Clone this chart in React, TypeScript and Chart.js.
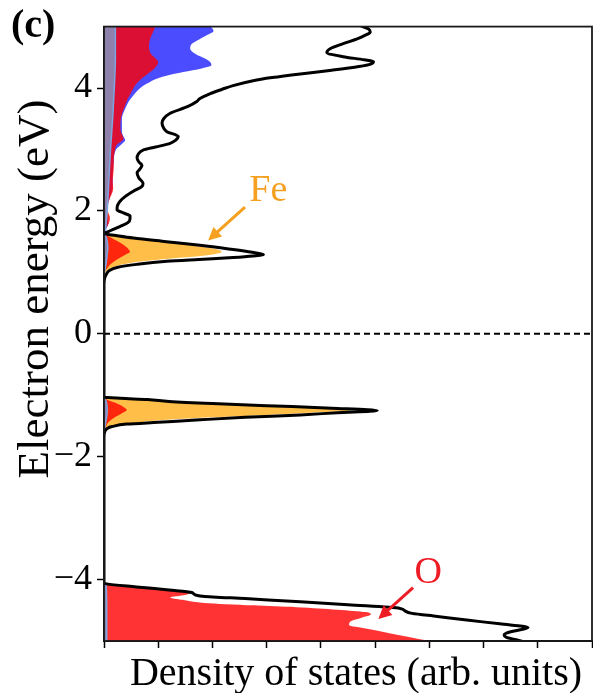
import { useEffect, useRef } from 'react';
import { Chart, registerables } from 'chart.js';

Chart.register(...registerables);

// ---------------- data (energy in eV, DOS in arb. units) ----------------
const totalE = [
  5.05, 5.01, 4.96, 4.91, 4.86, 4.80, 4.72, 4.64, 4.58, 4.51, 4.46, 4.43, 4.39, 4.35, 4.29, 4.23, 4.17, 4.12,
  4.04, 3.98, 3.91, 3.83, 3.78, 3.70, 3.59, 3.50, 3.43, 3.35, 3.29, 3.21, 3.15, 3.10, 3.04, 2.99, 2.92, 2.86,
  2.80, 2.74, 2.68, 2.62, 2.54, 2.45, 2.40, 2.32, 2.24, 2.16, 2.09, 2.02, 1.96, 1.92, 1.87, 1.81, 1.75, 1.70,
  1.66, 1.63, 1.60, 1.56, 1.50, 1.44, 1.38, 1.33, 1.29, 1.265, 1.24, 1.21, 1.18, 1.13, 1.08, 1.03, 0.98, 0.90,
  0.80, -1.00, -1.03, -1.05, -1.07, -1.10, -1.135, -1.17, -1.21, -1.25, -1.285, -1.32, -1.36, -1.40, -1.44,
  -1.47, -1.51, -1.54, -1.60, -1.70, -4.05, -4.07, -4.12, -4.17, -4.21, -4.235, -4.27, -4.31, -4.36, -4.41,
  -4.47, -4.51, -4.55, -4.60, -4.66, -4.72, -4.78, -4.81, -4.85, -4.90, -4.94, -4.98, -5.05,
];
const totalDOS = [
  4.60, 4.75, 4.88, 4.91, 4.82, 4.67, 4.40, 4.17, 4.11, 4.41, 4.80, 4.97, 4.92, 4.70, 4.20, 3.62, 3.10, 2.75,
  2.38, 2.18, 1.96, 1.77, 1.71, 1.55, 1.22, 1.10, 1.07, 1.10, 1.16, 1.37, 1.32, 1.22, 0.95, 0.72, 0.63, 0.61,
  0.64, 0.70, 0.66, 0.61, 0.64, 0.72, 0.70, 0.54, 0.40, 0.30, 0.25, 0.24, 0.38, 0.48, 0.48, 0.44, 0.30, 0.17,
  0.07, 0.0, 0.22, 0.54, 1.15, 1.77, 2.30, 2.70, 2.94, 2.75, 2.38, 1.75, 1.16, 0.60, 0.24, 0.10, 0.05, 0.01,
  0, 0, 0, 0.3, 0.8, 1.2, 2.0, 3.0, 4.2, 5.04, 4.3, 3.62, 2.6, 1.77, 1.0,
  0.42, 0.15, 0.06, 0.01, 0, 0, 0.05, 0.6, 1.2, 1.62, 1.66, 1.82, 2.6, 3.62, 4.5,
  5.46, 5.55, 5.68, 6.15, 6.69, 7.3, 7.82, 7.72, 7.50, 7.38, 7.42, 7.60, 7.90,
];

// red: O states
const oxygenE = [
  5.05, 5.01, 4.90, 4.80, 4.70, 4.58, 4.50, 4.42, 4.34, 4.26, 4.15, 4.05, 3.94, 3.83, 3.72, 3.60, 3.50, 3.38,
  3.29, 3.18, 3.07, 2.97, 2.86, 2.72, 2.59, 2.48, 2.37, 2.29, 2.21, 2.13, 2.05, 1.97, 1.89, 1.80, 1.72, 1.67,
  1.63, 1.60, 1.54, 1.48, 1.42, 1.37, 1.33, 1.29, 1.25, 1.21, 1.14, 1.08, 1.00, 0.90, -1.02, -1.06, -1.09,
  -1.13, -1.19, -1.24, -1.29, -1.37, -1.45, -1.54, -1.65, -4.05, -4.07, -4.12, -4.17, -4.21, -4.25, -4.29,
  -4.33, -4.38, -4.42, -4.45, -4.49, -4.53, -4.57, -4.62, -4.68, -4.74, -4.80, -4.86, -4.93, -5.05,
];
const oxygenDOS = [
  0.96, 0.95, 0.90, 0.85, 0.83, 0.85, 0.93, 1.00, 0.95, 0.85, 0.69, 0.58, 0.51, 0.44, 0.39, 0.34, 0.31, 0.30,
  0.31, 0.36, 0.23, 0.20, 0.18, 0.18, 0.17, 0.16, 0.17, 0.15, 0.11, 0.08, 0.05, 0.08, 0.11, 0.09, 0.04, 0.01,
  0.02, 0.06, 0.18, 0.30, 0.40, 0.46, 0.48, 0.40, 0.32, 0.24, 0.13, 0.07, 0.01, 0, 0, 0.04, 0.10,
  0.23, 0.36, 0.42, 0.34, 0.18, 0.07, 0.03, 0, 0, 0.05, 0.6, 1.2, 1.6, 1.5, 1.22,
  1.45, 1.85, 2.75, 3.55, 4.3, 4.82, 4.92, 4.75, 4.55, 4.52, 4.85, 5.2, 5.6, 6.3,
];

// orange: Fe states
const ironE = [
  1.64, 1.615, 1.59, 1.54, 1.49, 1.43, 1.38, 1.33, 1.29, 1.26, 1.24, 1.20, 1.16, 1.10, 1.05, 1.00, 0.90,
  -1.02, -1.04, -1.06, -1.085, -1.13, -1.17, -1.20, -1.23, -1.25, -1.28, -1.32, -1.36, -1.40, -1.44, -1.48,
  -1.52, -1.56, -1.65,
];
const ironDOS = [
  0, 0.05, 0.24, 0.62, 1.12, 1.70, 2.06, 2.17, 2.0, 1.70, 1.46, 0.95, 0.54, 0.22, 0.11, 0.03, 0,
  0, 0, 0.3, 0.8, 1.75, 2.8, 3.62, 4.25, 4.54, 3.9, 3.0, 2.0, 1.16, 0.65, 0.30,
  0.10, 0.03, 0,
];

// blue states
const blueE = [
  5.05, 5.01, 4.97, 4.93, 4.87, 4.80, 4.72, 4.64, 4.56, 4.47, 4.41, 4.37, 4.32, 4.26, 4.20, 4.15, 4.10, 4.04,
  3.96, 3.88, 3.80, 3.72, 3.60, 3.50, 3.39, 3.29, 3.21, 3.15, 3.09, 3.02, 2.95, 2.80, 2.60, 2.40, 2.20, 2.00,
  1.80, 1.65,
];
const blueDOS = [
  1.92, 1.96, 2.00, 2.02, 1.92, 1.77, 1.62, 1.59, 1.68, 1.89, 1.97, 1.98, 1.80, 1.46, 1.15, 0.97, 0.85, 0.73,
  0.62, 0.54, 0.47, 0.42, 0.36, 0.33, 0.33, 0.33, 0.36, 0.39, 0.33, 0.24, 0.20, 0.18, 0.16, 0.16, 0.10, 0.05,
  0.08, 0,
];

// grey-violet states
const greyE = [
  5.05, 4.5, 4.0, 3.5, 3.0, 2.5, 2.0, 1.7, 1.62, 1.55, 1.40, 1.30, 1.15, 1.0, 0.9, -1.02, -1.10, -1.25, -1.40,
  -1.55, -1.65, -4.05, -4.10, -4.5, -5.05,
];
const greyDOS = [
  0.21, 0.21, 0.19, 0.16, 0.12, 0.09, 0.06, 0.03, 0.02, 0.05, 0.07, 0.06, 0.04, 0.01, 0, 0, 0.04, 0.06, 0.04,
  0.01, 0, 0, 0.04, 0.05, 0.05,
];

// Fermi level
const fermiE = [0, 0];
const fermiDOS = [0, 9];

// axes
const yTickValues = [-4, -2, 0, 2, 4];
const xTickValues = [0, 1, 2, 3, 4, 5, 6, 7, 8, 9];
const xTitle = 'Density of states (arb. units)';
const yTitle = 'Electron energy (eV)';
const panelLabel = '(c)';

// labels with arrows (data coordinates: [DOS, energy])
const annotationTexts = ['Fe', 'O'];
const annotationColors = ['#F5A020', '#EE1C25'];
const annotationTextAt = [[3.03, 2.32], [5.98, -3.90]];
const annotationArrowFrom = [[2.60, 2.06], [5.70, -4.13]];
const annotationArrowTo = [[1.92, 1.52], [5.06, -4.64]];

const SERIF = "'Liberation Serif', 'Times New Roman', serif";

const toPoints = (es: number[], ds: number[]) => es.map((e, i) => ({ x: ds[i], y: e }));

const framePlugin = {
  id: 'frame',
  afterDatasetsDraw(chart: any) {
    const { ctx, chartArea: a } = chart;
    ctx.save();
    ctx.strokeStyle = '#1a1a1a';
    ctx.lineWidth = 1.8;
    ctx.strokeRect(a.left, a.top, a.right - a.left, a.bottom - a.top);
    ctx.restore();
  },
};

const textPlugin = {
  id: 'texts',
  afterDraw(chart: any) {
    const { ctx } = chart;
    ctx.save();
    ctx.fillStyle = '#000';
    // x-axis title
    ctx.font = `40px ${SERIF}`;
    ctx.textAlign = 'center';
    ctx.textBaseline = 'alphabetic';
    ctx.fillText(xTitle, 356, 685);
    // y-axis title
    ctx.save();
    ctx.translate(48, 289);
    ctx.rotate(-Math.PI / 2);
    ctx.font = `45px ${SERIF}`;
    ctx.fillText(yTitle, 0, 0);
    ctx.restore();
    // panel label
    ctx.font = `bold 40px ${SERIF}`;
    ctx.textAlign = 'left';
    ctx.fillText(panelLabel, 11, 37);
    ctx.restore();
  },
};

const annotationPlugin = {
  id: 'dosAnnotations',
  afterDatasetsDraw(chart: any) {
    const { ctx, scales } = chart;
    const xs = scales.x;
    const ys = scales.y;
    ctx.save();
    annotationTexts.forEach((txt, i) => {
      const color = annotationColors[i];
      const tx = xs.getPixelForValue(annotationTextAt[i][0]);
      const ty = ys.getPixelForValue(annotationTextAt[i][1]);
      ctx.fillStyle = color;
      ctx.font = `38px ${SERIF}`;
      ctx.textAlign = 'center';
      ctx.textBaseline = 'middle';
      ctx.fillText(txt, tx, ty);
      const x0 = xs.getPixelForValue(annotationArrowFrom[i][0]);
      const y0 = ys.getPixelForValue(annotationArrowFrom[i][1]);
      const x1 = xs.getPixelForValue(annotationArrowTo[i][0]);
      const y1 = ys.getPixelForValue(annotationArrowTo[i][1]);
      const ang = Math.atan2(y1 - y0, x1 - x0);
      const headLen = 13;
      const headW = 6.5;
      ctx.strokeStyle = color;
      ctx.lineWidth = 3;
      ctx.beginPath();
      ctx.moveTo(x0, y0);
      ctx.lineTo(x1 - Math.cos(ang) * headLen * 0.8, y1 - Math.sin(ang) * headLen * 0.8);
      ctx.stroke();
      ctx.beginPath();
      ctx.moveTo(x1, y1);
      ctx.lineTo(x1 - Math.cos(ang) * headLen - Math.sin(ang) * headW, y1 - Math.sin(ang) * headLen + Math.cos(ang) * headW);
      ctx.lineTo(x1 - Math.cos(ang) * headLen + Math.sin(ang) * headW, y1 - Math.sin(ang) * headLen - Math.cos(ang) * headW);
      ctx.closePath();
      ctx.fill();
    });
    ctx.restore();
  },
};

export default function App() {
  const ref = useRef<HTMLCanvasElement>(null);
  useEffect(() => {
    const canvas = ref.current!;
    const area = (es: number[], ds: number[], color: string, extra: any = {}) => ({
      data: toPoints(es, ds),
      borderWidth: 0,
      borderColor: color,
      backgroundColor: color,
      fill: 'origin',
      pointRadius: 0,
      cubicInterpolationMode: 'monotone',
      ...extra,
    });
    const chart = new Chart(canvas, {
      type: 'line',
      data: {
        datasets: [
          { data: toPoints(fermiE, fermiDOS), borderColor: '#000', borderWidth: 2, borderDash: [6, 4], pointRadius: 0, fill: false } as any,
          { data: toPoints(totalE, totalDOS), borderColor: '#000', borderWidth: 3, pointRadius: 0, fill: false, cubicInterpolationMode: 'monotone' },
          area(greyE, greyDOS, 'rgb(142,130,172)', { borderColor: 'rgb(125,165,225)', borderWidth: 1.5 }),
          area(oxygenE, oxygenDOS, 'rgba(255,0,0,0.8)'),
          area(ironE, ironDOS, 'rgba(255,165,0,0.72)'),
          area(blueE, blueDOS, 'rgba(0,0,255,0.7)'),
        ],
      },
      options: {
        indexAxis: 'y',
        responsive: false,
        animation: false,
        devicePixelRatio: 1,
        layout: { padding: { top: 22, right: 1, left: 0, bottom: 0 } },
        plugins: { legend: { display: false }, tooltip: { enabled: false } },
        scales: {
          x: {
            type: 'linear',
            min: 0,
            max: 9,
            afterFit: (s: any) => { s.height = 52; },
            afterBuildTicks: (s: any) => { s.ticks = xTickValues.map((v) => ({ value: v })); },
            ticks: { callback: () => '', padding: 0 },
            grid: { drawOnChartArea: false, drawTicks: true, tickLength: 7, tickWidth: 1.5, tickColor: '#000' },
            border: { display: true, color: '#000', width: 2 },
          },
          y: {
            type: 'linear',
            min: -5,
            max: 5,
            afterFit: (s: any) => { s.width = 104; },
            afterBuildTicks: (s: any) => { s.ticks = yTickValues.map((v) => ({ value: v })); },
            ticks: {
              color: '#000',
              padding: 5,
              font: { family: SERIF, size: 36 },
              callback: (v: any) => (v < 0 ? '\u2212' + Math.abs(v) : String(v)),
            },
            grid: { drawOnChartArea: false, drawTicks: true, tickLength: 7, tickWidth: 1.5, tickColor: '#000' },
            border: { display: true, color: '#000', width: 2 },
          },
        },
      },
      plugins: [framePlugin, annotationPlugin, textPlugin],
    } as any);
    return () => chart.destroy();
  }, []);
  return (
    <div style={{ position: 'absolute', left: 0, top: 0, width: 593, height: 693, background: '#fff' }}>
      <canvas ref={ref} width={593} height={693} style={{ display: 'block' }} />
    </div>
  );
}
